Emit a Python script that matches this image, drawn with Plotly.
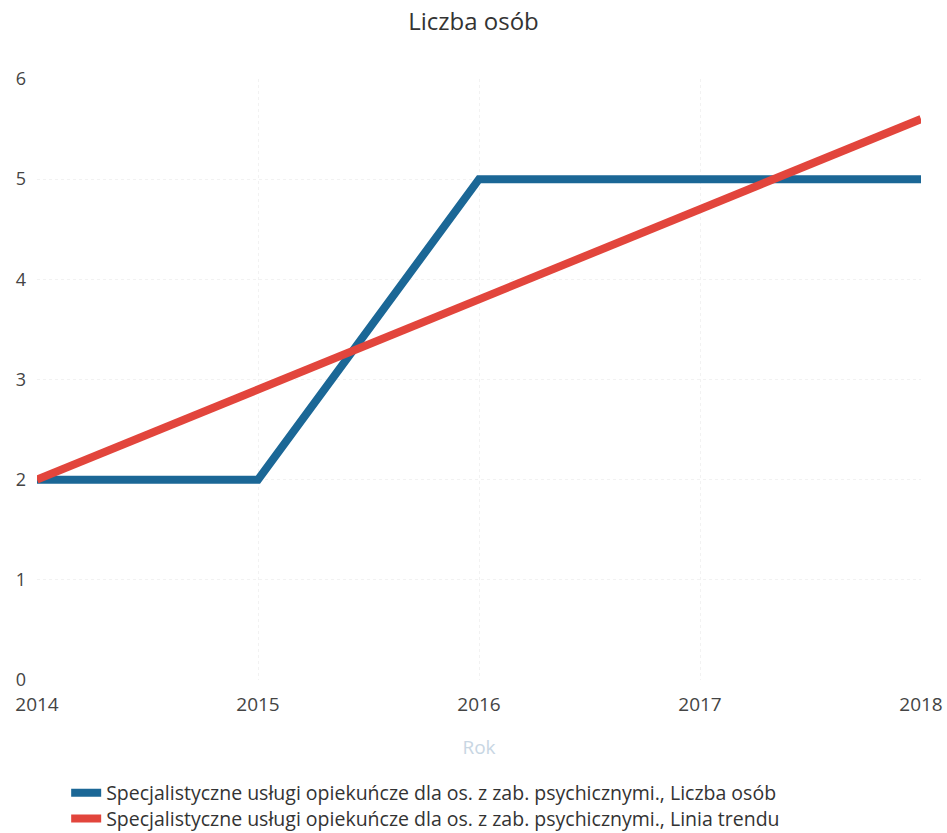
import plotly.graph_objects as go

years = [2014, 2015, 2016, 2017, 2018]
liczba_osob = [2, 2, 5, 5, 5]
linia_trendu = [2.0, 2.9, 3.8, 4.7, 5.6]
y_ticks = [0, 1, 2, 3, 4, 5, 6]

name_blue = "Specjalistyczne usługi opiekuńcze dla os. z zab. psychicznymi., Liczba osób"
name_red = "Specjalistyczne usługi opiekuńcze dla os. z zab. psychicznymi., Linia trendu"
blue = "#1b6796"
red = "#e2453c"

fig = go.Figure()
fig.add_trace(go.Scatter(x=years, y=liczba_osob, mode="lines", name=name_blue,
                         line=dict(color=blue, width=8), legend="legend", showlegend=True))
fig.add_trace(go.Scatter(x=years, y=linia_trendu, mode="lines", name=name_red,
                         line=dict(color=red, width=8), legend="legend2", showlegend=True))

legend_style = dict(xanchor="left", yanchor="top", orientation="v", visible=True,
                    font=dict(size=19.5, color="#333"), bgcolor="rgba(0,0,0,0)")

fig.update_layout(
    width=947, height=833,
    showlegend=True,
    margin=dict(l=37, r=26, t=79, b=153, autoexpand=False),
    paper_bgcolor="white", plot_bgcolor="white",
    font=dict(family="Open Sans", size=19, color="#444"),
    title=dict(text="Liczba osób", x=0.5, xanchor="center", y=1 - 22 / 833, yanchor="middle",
               font=dict(size=24, color="#333")),
    xaxis=dict(range=[2014, 2018], tickvals=years, ticktext=[str(y) for y in years],
               showgrid=True, gridcolor="#f2f2f2", griddash="dot", zeroline=False,
               showline=False, ticks="", tickfont=dict(size=19, color="#444"),
               ticklabelstandoff=11,
               title=dict(text="Rok", font=dict(size=19, color="#c8d6e3"), standoff=24)),
    yaxis=dict(range=[0, 6], tickvals=y_ticks, showgrid=True, gridcolor="#f2f2f2",
               griddash="dot", zeroline=False, showline=False, ticks="",
               tickfont=dict(size=18, color="#444"), ticklabelstandoff=10),
    legend=dict(x=0.033, y=-0.1555, **legend_style),
    legend2=dict(x=0.033, y=-0.1985, **legend_style),
)
fig.write_html("out.html", post_script="document.body.style.margin='0';",
               config={"displayModeBar": False})
